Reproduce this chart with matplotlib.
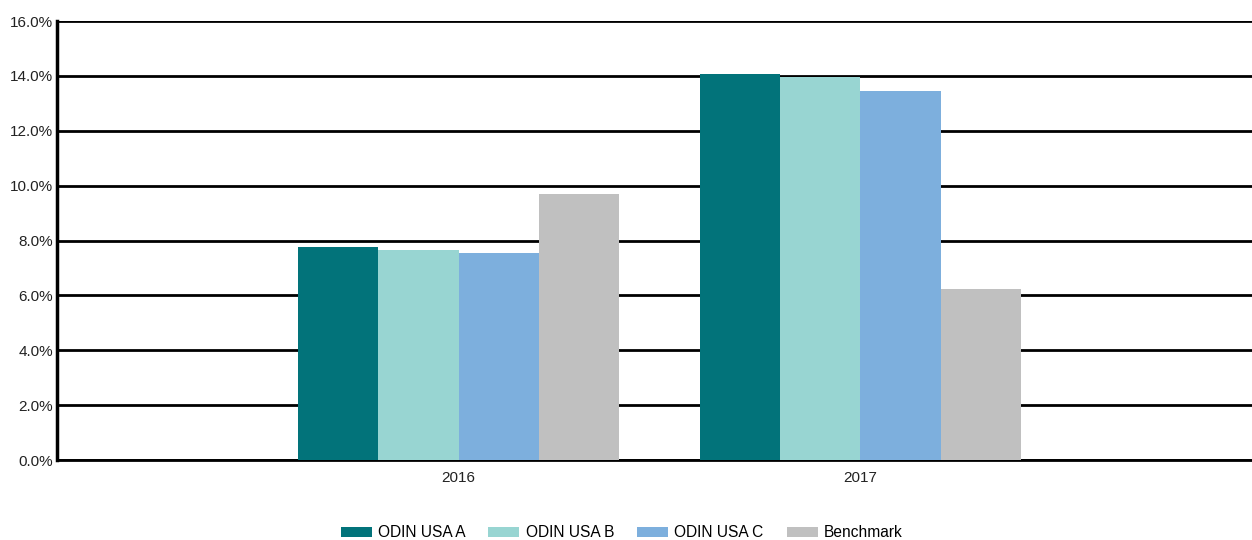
import numpy as np
import matplotlib.pyplot as plt
from matplotlib.ticker import FuncFormatter

plt.rcParams['font.family'] = ['Liberation Sans', 'DejaVu Sans']

years = ['2016', '2017']
series = ['ODIN USA A', 'ODIN USA B', 'ODIN USA C', 'Benchmark']
odin_a = [7.75, 14.07]
odin_b = [7.67, 13.96]
odin_c = [7.53, 13.45]
benchmark = [9.69, 6.25]
colores = ['#02737A', '#98D5D2', '#7DAFDD', '#C0C0C0']

valores = [odin_a, odin_b, odin_c, benchmark]

fig = plt.figure(figsize=(12.52, 5.4), dpi=100)
ax = fig.add_axes([0.0455, 0.148, 0.9545, 0.813])

x = np.arange(len(years))
ancho = 0.2
for i, (nombre, vals) in enumerate(zip(series, valores)):
    ax.bar(x + (i - 1.5) * ancho, vals, ancho, color=colores[i], label=nombre, zorder=3)

ax.set_xlim(-1, 1.975)
ax.set_ylim(0, 16)
ax.set_yticks(np.arange(0, 16.1, 2))
ax.yaxis.set_major_formatter(FuncFormatter(lambda v, p: f'{v:.1f}%'))
ax.set_xticks(x)
ax.set_xticklabels(years)
ax.tick_params(axis='both', length=0, labelsize=11, colors='#222222')
ax.tick_params(axis='y', pad=3)
ax.tick_params(axis='x', pad=8)

ax.grid(axis='y', color='black', linewidth=2, zorder=1)
ax.set_axisbelow(True)
for s in ['top', 'right']:
    ax.spines[s].set_visible(False)
ax.spines['left'].set_linewidth(2.5)
ax.spines['bottom'].set_linewidth(2)

fig.legend(loc='center', bbox_to_anchor=(0.4964, 0.013), ncol=4, frameon=False,
           fontsize=11.2, handlelength=2.0, handleheight=0.7, columnspacing=1.48,
           handletextpad=0.39)

plt.savefig('out.png', dpi=100)
